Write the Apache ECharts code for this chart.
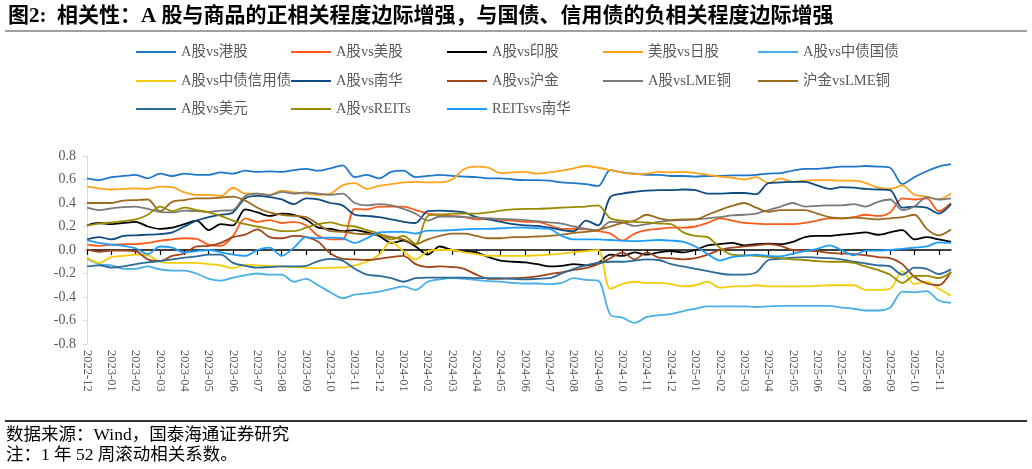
<!DOCTYPE html>
<html>
<head>
<meta charset="utf-8">
<script src="https://cdn.jsdelivr.net/npm/echarts@6/dist/echarts.min.js"></script>
<style>
  html, body { margin: 0; padding: 0; background: #fff; }
  #chart { width: 1032px; height: 469px; }
</style>
</head>
<body>
<div id="chart"></div>
<script>
// 月份标签（每月两个数据点）
const months = ['2022-12', '2023-01', '2023-02', '2023-03', '2023-04', '2023-05', '2023-06', '2023-07', '2023-08',
  '2023-09', '2023-10', '2023-11', '2023-12', '2024-01', '2024-02', '2024-03', '2024-04', '2024-05', '2024-06',
  '2024-07', '2024-08', '2024-09', '2024-10', '2024-11', '2024-12', '2025-01', '2025-02', '2025-03', '2025-04',
  '2025-05', '2025-06', '2025-07', '2025-08', '2025-09', '2025-10', '2025-11']
const yTicks = [-0.8, -0.6, -0.4, -0.2, 0, 0.2, 0.4, 0.6, 0.8]

const hkData = [
  0.61, 0.595, 0.62, 0.63, 0.64, 0.61, 0.65, 0.63, 0.65, 0.64, 0.64, 0.66,
  0.65, 0.675, 0.665, 0.67, 0.665, 0.68, 0.69, 0.675, 0.695, 0.72, 0.62, 0.64,
  0.61, 0.665, 0.675, 0.62, 0.63, 0.64, 0.63, 0.625, 0.62, 0.61, 0.61, 0.60,
  0.595, 0.595, 0.59, 0.575, 0.57, 0.56, 0.545, 0.68, 0.66, 0.65, 0.64, 0.64,
  0.63, 0.63, 0.625, 0.63, 0.63, 0.635, 0.635, 0.64, 0.65, 0.655, 0.675, 0.69,
  0.69, 0.70, 0.71, 0.71, 0.715, 0.71, 0.70, 0.56, 0.62, 0.67, 0.71, 0.73]
const usData = [
  0.045, 0.035, 0.045, 0.05, 0.05, 0.06, 0.08, 0.09, 0.10, 0.095, 0.045, 0.035,
  0.12, 0.27, 0.24, 0.255, 0.23, 0.24, 0.21, 0.12, 0.09, 0.09, 0.35, 0.345,
  0.37, 0.37, 0.37, 0.34, 0.31, 0.30, 0.29, 0.28, 0.26, 0.27, 0.255, 0.25,
  0.24, 0.24, 0.21, 0.18, 0.18, 0.175, 0.16, 0.14, 0.08, 0.14, 0.17, 0.18,
  0.19, 0.19, 0.20, 0.23, 0.27, 0.25, 0.23, 0.225, 0.22, 0.22, 0.22, 0.23,
  0.25, 0.27, 0.27, 0.28, 0.30, 0.29, 0.32, 0.44, 0.43, 0.44, 0.33, 0.40]
const indiaData = [
  0.21, 0.23, 0.22, 0.23, 0.24, 0.20, 0.18, 0.19, 0.22, 0.25, 0.17, 0.22,
  0.21, 0.345, 0.32, 0.29, 0.31, 0.30, 0.26, 0.19, 0.18, 0.16, 0.17, 0.15,
  0.12, 0.06, 0.08, 0.03, -0.04, 0.03, 0.0, -0.01, -0.02, -0.06, -0.09, -0.10,
  -0.105, -0.12, -0.14, -0.135, -0.12, -0.13, -0.11, -0.04, -0.05, -0.02, -0.04, -0.02,
  -0.01, -0.02, 0.0, 0.04, 0.05, 0.06, 0.04, 0.05, 0.055, 0.05, 0.07, 0.11,
  0.12, 0.12, 0.13, 0.14, 0.15, 0.13, 0.15, 0.17, 0.09, 0.11, 0.09, 0.07]
const jpData = [
  0.54, 0.525, 0.515, 0.52, 0.525, 0.52, 0.54, 0.535, 0.49, 0.47, 0.47, 0.46,
  0.53, 0.48, 0.48, 0.47, 0.505, 0.49, 0.48, 0.47, 0.48, 0.55, 0.57, 0.52,
  0.545, 0.56, 0.575, 0.58, 0.575, 0.575, 0.60, 0.69, 0.71, 0.70, 0.655, 0.66,
  0.665, 0.65, 0.66, 0.675, 0.695, 0.715, 0.70, 0.68, 0.66, 0.645, 0.65, 0.665,
  0.66, 0.665, 0.655, 0.64, 0.625, 0.615, 0.60, 0.62, 0.57, 0.61, 0.58, 0.59,
  0.595, 0.595, 0.59, 0.59, 0.57, 0.53, 0.52, 0.55, 0.47, 0.455, 0.43, 0.48]
const cgbData = [
  -0.075, -0.12, -0.13, -0.16, -0.16, -0.14, -0.165, -0.175, -0.175, -0.20, -0.245, -0.26,
  -0.235, -0.215, -0.20, -0.21, -0.21, -0.27, -0.245, -0.30, -0.36, -0.41, -0.38, -0.37,
  -0.355, -0.33, -0.31, -0.34, -0.27, -0.25, -0.24, -0.245, -0.255, -0.265, -0.27, -0.28,
  -0.285, -0.285, -0.29, -0.28, -0.24, -0.255, -0.26, -0.55, -0.575, -0.62, -0.57, -0.555,
  -0.545, -0.52, -0.50, -0.48, -0.48, -0.48, -0.48, -0.485, -0.48, -0.475, -0.475, -0.475,
  -0.475, -0.475, -0.49, -0.50, -0.515, -0.515, -0.49, -0.355, -0.36, -0.35, -0.43, -0.45]
const creditData = [
  -0.065, -0.11, -0.06, -0.05, -0.04, -0.045, -0.10, -0.11, -0.11, -0.11, -0.12, -0.13,
  -0.155, -0.125, -0.13, -0.135, -0.14, -0.145, -0.15, -0.155, -0.15, -0.15, -0.13, -0.10,
  -0.04, 0.07, -0.01, -0.08, -0.01, 0.0, 0.0, -0.02, -0.035, -0.05, -0.05, -0.05,
  -0.05, -0.045, -0.04, -0.03, -0.02, -0.01, 0.0, -0.33, -0.29, -0.27, -0.28, -0.28,
  -0.29, -0.31, -0.30, -0.27, -0.32, -0.31, -0.31, -0.30, -0.31, -0.31, -0.31, -0.31,
  -0.305, -0.30, -0.30, -0.30, -0.34, -0.34, -0.33, -0.18, -0.29, -0.27, -0.33, -0.39]
const nanhuaData = [
  0.09, 0.11, 0.09, 0.12, 0.125, 0.13, 0.135, 0.15, 0.20, 0.25, 0.28, 0.30,
  0.32, 0.44, 0.46, 0.45, 0.43, 0.39, 0.44, 0.43, 0.40, 0.38, 0.30, 0.29,
  0.28, 0.26, 0.24, 0.23, 0.33, 0.335, 0.33, 0.32, 0.28, 0.26, 0.24, 0.22,
  0.21, 0.205, 0.19, 0.17, 0.16, 0.25, 0.21, 0.45, 0.48, 0.495, 0.505, 0.51,
  0.51, 0.515, 0.51, 0.48, 0.48, 0.485, 0.485, 0.475, 0.57, 0.575, 0.58, 0.58,
  0.55, 0.52, 0.535, 0.53, 0.52, 0.515, 0.51, 0.36, 0.37, 0.36, 0.31, 0.39]
const goldData = [
  0.005, -0.015, -0.005, -0.005, -0.01, -0.08, -0.095, -0.05, -0.03, 0.03, 0.035, 0.06,
  0.11, 0.13, 0.175, 0.11, 0.10, 0.12, 0.11, 0.07, -0.03, -0.075, -0.08, -0.085,
  -0.075, -0.06, -0.05, -0.12, -0.145, -0.14, -0.145, -0.16, -0.21, -0.245, -0.245, -0.24,
  -0.235, -0.225, -0.205, -0.19, -0.17, -0.155, -0.12, -0.07, -0.02, -0.08, -0.02, -0.065,
  -0.07, -0.08, -0.07, -0.04, 0.0, 0.02, 0.03, 0.04, 0.05, 0.035, 0.0, -0.005,
  -0.01, -0.025, -0.03, -0.035, -0.045, -0.06, -0.07, -0.12, -0.23, -0.285, -0.30, -0.185]
const copperData = [
  0.36, 0.34, 0.355, 0.365, 0.37, 0.35, 0.325, 0.32, 0.335, 0.33, 0.325, 0.335,
  0.34, 0.46, 0.48, 0.465, 0.495, 0.48, 0.49, 0.48, 0.47, 0.48, 0.40, 0.38,
  0.39, 0.38, 0.35, 0.31, 0.25, 0.285, 0.285, 0.28, 0.275, 0.27, 0.265, 0.26,
  0.255, 0.245, 0.235, 0.225, 0.20, 0.18, 0.17, 0.24, 0.235, 0.205, 0.22, 0.24,
  0.25, 0.255, 0.26, 0.27, 0.28, 0.295, 0.30, 0.31, 0.34, 0.37, 0.40, 0.37,
  0.375, 0.38, 0.38, 0.39, 0.37, 0.41, 0.43, 0.34, 0.37, 0.45, 0.43, 0.44]
const goldCopperData = [
  0.40, 0.40, 0.40, 0.42, 0.425, 0.43, 0.33, 0.41, 0.425, 0.44, 0.44, 0.445,
  0.455, 0.42, 0.36, 0.32, 0.30, 0.29, 0.28, 0.22, 0.16, 0.155, 0.14, 0.135,
  0.13, 0.11, 0.09, 0.05, 0.09, 0.12, 0.14, 0.14, 0.12, 0.10, 0.10, 0.11,
  0.11, 0.115, 0.12, 0.13, 0.145, 0.155, 0.17, 0.20, 0.23, 0.25, 0.30, 0.27,
  0.255, 0.26, 0.26, 0.30, 0.34, 0.375, 0.40, 0.36, 0.325, 0.34, 0.34, 0.34,
  0.31, 0.28, 0.27, 0.275, 0.27, 0.26, 0.27, 0.28, 0.30, 0.18, 0.125, 0.175]
const usdData = [
  -0.14, -0.13, -0.15, -0.14, -0.12, -0.105, -0.095, -0.08, -0.065, -0.055, -0.04, -0.04,
  -0.11, -0.135, -0.15, -0.145, -0.14, -0.14, -0.135, -0.095, -0.075, -0.09, -0.16, -0.21,
  -0.22, -0.24, -0.27, -0.24, -0.235, -0.235, -0.235, -0.235, -0.24, -0.24, -0.24, -0.245,
  -0.25, -0.245, -0.24, -0.20, -0.16, -0.13, -0.11, -0.10, -0.10, -0.09, -0.08, -0.085,
  -0.12, -0.14, -0.16, -0.18, -0.20, -0.21, -0.21, -0.19, -0.085, -0.075, -0.065, -0.06,
  -0.065, -0.07, -0.08, -0.10, -0.115, -0.13, -0.14, -0.21, -0.15, -0.16, -0.205, -0.165]
const reitsData = [
  0.21, 0.225, 0.235, 0.245, 0.26, 0.30, 0.37, 0.33, 0.36, 0.34, 0.32, 0.29,
  0.25, 0.22, 0.20, 0.18, 0.16, 0.16, 0.19, 0.22, 0.235, 0.21, 0.20, 0.17,
  0.14, 0.09, 0.12, 0.05, 0.29, 0.30, 0.31, 0.31, 0.31, 0.32, 0.335, 0.345,
  0.35, 0.35, 0.355, 0.36, 0.365, 0.37, 0.38, 0.27, 0.25, 0.24, 0.235, 0.225,
  0.22, 0.15, 0.12, 0.11, 0.02, -0.04, -0.045, -0.05, -0.06, -0.07, -0.08, -0.085,
  -0.095, -0.10, -0.10, -0.11, -0.14, -0.17, -0.21, -0.28, -0.22, -0.22, -0.24, -0.19]
const reitsNanhuaData = [
  0.085, 0.06, 0.045, 0.035, 0.015, -0.035, 0.03, 0.02, -0.02, -0.01, 0.0, -0.02,
  -0.04, -0.05, 0.0, 0.02, -0.05, 0.02, 0.11, 0.10, 0.105, 0.10, 0.06, 0.10,
  0.15, 0.155, 0.155, 0.14, 0.165, 0.165, 0.17, 0.175, 0.18, 0.18, 0.185, 0.19,
  0.19, 0.185, 0.18, 0.12, 0.09, 0.09, 0.09, 0.085, 0.08, 0.075, 0.08, 0.085,
  0.08, 0.07, 0.03, -0.035, -0.09, -0.06, -0.05, -0.04, -0.05, -0.055, -0.03, -0.01,
  0.01, 0.04, 0.0, -0.045, -0.005, -0.005, 0.0, 0.01, 0.02, 0.03, 0.065, 0.06]

const seriesNames = ['A股vs港股', 'A股vs美股', 'A股vs印股', '美股vs日股', 'A股vs中债国债',
  'A股vs中债信用债', 'A股vs南华', 'A股vs沪金', 'A股vsLME铜', '沪金vsLME铜',
  'A股vs美元', 'A股vsREITs', 'REITsvs南华']
const seriesData = [hkData, usData, indiaData, jpData, cgbData, creditData, nanhuaData,
  goldData, copperData, goldCopperData, usdData, reitsData, reitsNanhuaData]
const colors = ['#1f77c9', '#ff5a1a', '#000000', '#ffa31a', '#4aaee8',
  '#f5cc0a', '#0f4c81', '#a0461a', '#7a7a7a', '#9b6a1f',
  '#2b6b9a', '#9a8a00', '#1e9cff']

// 每月两个点：月初、月中
const categories = []
months.forEach((m) => {
  categories.push(m + '-01')
  categories.push(m + '-16')
})

const serifFont = '"Liberation Serif", "Noto Sans CJK SC", serif'
const legendCols = [136, 291, 447, 603, 758]
const legendRows = [52, 81, 109]

const myChart = echarts.init(document.getElementById('chart'))
myChart.setOption({
  animation: false,
  color: colors,
  legend: seriesNames.map((name, i) => ({
    data: [name],
    left: legendCols[i % 5],
    top: legendRows[Math.floor(i / 5)] - 8,
    padding: 0,
    icon: 'rect',
    itemWidth: 40,
    itemHeight: 2,
    itemGap: 4,
    selectedMode: false,
    textStyle: {
      color: '#595959',
      fontSize: 14.5,
      fontFamily: serifFont,
      lineHeight: 16,
    },
  })),
  grid: {
    left: 87,
    right: 81,
    top: 156,
    bottom: 125,
    containLabel: false,
  },
  xAxis: [
    {
      type: 'category',
      data: categories,
      boundaryGap: false,
      axisLine: { show: false, onZero: false },
      axisTick: { show: false },
      axisLabel: {
        interval: 1,
        rotate: -90,
        margin: 6,
        color: '#595959',
        fontSize: 12.5,
        fontFamily: serifFont,
        formatter: function (value) {
          return value.slice(0, 7)
        },
      },
    },
    {
      // 零轴线
      type: 'category',
      data: categories,
      boundaryGap: false,
      position: 'bottom',
      axisLine: { show: true, onZero: true, lineStyle: { color: '#000', width: 1.5 } },
      axisTick: { show: true, interval: 1, length: 5, lineStyle: { color: '#000', width: 1.2 } },
      axisLabel: { show: false },
    },
  ],
  yAxis: {
    type: 'value',
    min: yTicks[0],
    max: yTicks[yTicks.length - 1],
    interval: 0.2,
    axisLine: { show: true, lineStyle: { color: '#d9d9d9', width: 1 } },
    axisTick: { show: true, length: 4, lineStyle: { color: '#d9d9d9' } },
    splitLine: { show: false },
    axisLabel: {
      margin: 11,
      color: '#595959',
      fontSize: 14,
      fontFamily: serifFont,
      formatter: function (v) {
        return v.toFixed(1)
      },
    },
  },
  series: seriesNames.map((name, i) => ({
    name: name,
    type: 'line',
    xAxisIndex: 0,
    data: seriesData[i],
    smooth: 0.3,
    symbol: 'none',
    lineStyle: { width: 1.8, color: colors[i] },
    itemStyle: { color: colors[i] },
  })),
  graphic: [
    {
      type: 'text',
      left: 8,
      top: 6,
      style: {
        text: '图2:  相关性：A 股与商品的正相关程度边际增强，与国债、信用债的负相关程度边际增强',
        fontSize: 21,
        fontWeight: 'bold',
        fontFamily: serifFont,
        fill: '#000',
      },
    },
    {
      type: 'line',
      shape: { x1: 5, y1: 31, x2: 1027, y2: 31 },
      style: { stroke: '#404040', lineWidth: 1 },
    },
    {
      type: 'line',
      shape: { x1: 5, y1: 421, x2: 1027, y2: 421 },
      style: { stroke: '#333', lineWidth: 2 },
    },
    {
      type: 'text',
      left: 6,
      top: 427,
      style: {
        text: '数据来源：Wind，国泰海通证券研究',
        fontSize: 17.5,
        fontFamily: serifFont,
        fill: '#000',
      },
    },
    {
      type: 'text',
      left: 6,
      top: 447,
      style: {
        text: '注：1 年 52 周滚动相关系数。',
        fontSize: 17.5,
        fontFamily: serifFont,
        fill: '#000',
      },
    },
  ],
})
</script>
</body>
</html>
